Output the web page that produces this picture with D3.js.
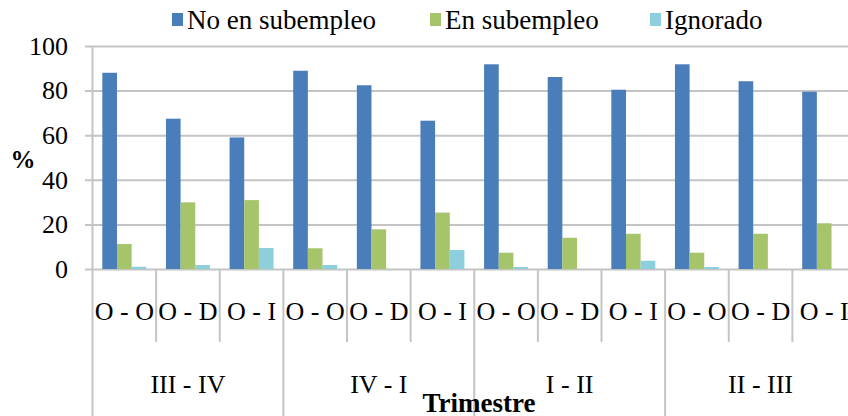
<!DOCTYPE html>
<meta charset="utf-8">
<style>
body { margin: 0; background: #fff; }
svg, svg text { font-family: "Liberation Serif", serif; }
.grid line { stroke: #c4c4c4; stroke-width: 2; }
.grid path { display: none; }
.sep { stroke: #c4c4c4; stroke-width: 2; }
</style>
<svg width="848" height="416" font-family="Liberation Serif"></svg>
<script src="https://d3js.org/d3.v7.min.js"></script>
<script>

var trimestres = ["III - IV", "IV - I", "I - II", "II - III"];
var flujos = ["O - O", "O - D", "O - I"];
var series = ["No en subempleo", "En subempleo", "Ignorado"];
var noSub = [88.0, 67.4, 59.0, 88.9, 82.4, 66.5, 91.8, 86.1, 80.4, 91.8, 84.2, 79.5];
var enSub = [11.2, 29.9, 30.9, 9.3, 17.8, 25.3, 7.3, 14.0, 15.8, 7.3, 15.8, 20.5];
var ignorado = [1.0, 1.8, 9.4, 1.8, 0, 8.5, 0.9, 0, 3.7, 0.9, 0, 0];
var yTicks = [0, 20, 40, 60, 80, 100];
var colors = ["#4a7ebb", "#a6c46a", "#8ecfdd"];
var serif = "Liberation Serif";

var svg = d3.select("svg"),
    plotL = 92.5, plotR = 856, plotT = 46, plotB = 269;

// one row per sub-category
var rows = [];
trimestres.forEach(function(t, i) {
  flujos.forEach(function(f, j) {
    var k = i * 3 + j;
    rows.push({key: k, trim: t, flujo: f, vals: [noSub[k], enSub[k], ignorado[k]]});
  });
});

var x0 = d3.scaleBand().domain(rows.map(function(d) { return d.key; })).range([plotL, plotR]);
var xg = d3.scaleBand().domain(trimestres).range([plotL, plotR]);
var x1 = d3.scaleBand().domain(series).range([0, x0.bandwidth()]).paddingInner(0).paddingOuter(0.67);
var y = d3.scaleLinear().domain([0, 100]).range([plotB, plotT]);

// gridlines + y labels
var yAxis = svg.append("g")
    .attr("class", "grid")
    .attr("transform", "translate(85,0)")
    .call(d3.axisLeft(y).tickValues(yTicks).tickSize(-(plotR - 85)).tickPadding(17))
    .attr("font-family", serif)
    .attr("font-size", 26);
yAxis.selectAll("text")
    .attr("fill", "#000")
    .attr("font-family", serif);

// y axis line
svg.append("line").attr("class", "sep")
    .attr("x1", plotL).attr("x2", plotL).attr("y1", plotT).attr("y2", 416);

// bars
var grp = svg.selectAll(".cat")
  .data(rows)
  .enter().append("g")
    .attr("transform", function(d) { return "translate(" + x0(d.key) + ",0)"; });

grp.selectAll("rect")
  .data(function(d) { return d.vals.map(function(v, i) { return {s: series[i], v: v, i: i}; }); })
  .enter().append("rect")
    .attr("x", function(d) { return x1(d.s); })
    .attr("width", x1.bandwidth())
    .attr("y", function(d) { return y(d.v); })
    .attr("height", function(d) { return plotB - y(d.v); })
    .attr("fill", function(d) { return colors[d.i]; });

// category separators
rows.forEach(function(d, k) {
  if (k === 0) return;
  var xx = x0(d.key);
  svg.append("line").attr("class", "sep")
      .attr("x1", xx).attr("x2", xx)
      .attr("y1", plotB).attr("y2", k % 3 === 0 ? 416 : 342);
});

// sub-category labels
svg.selectAll(".flab")
  .data(rows)
  .enter().append("text")
    .attr("x", function(d) { return x0(d.key) + x0.bandwidth() / 2; })
    .attr("y", 320)
    .attr("text-anchor", "middle")
    .attr("font-family", serif)
    .attr("font-size", 26)
    .text(function(d) { return d.flujo; });

// trimestre labels
svg.selectAll(".tlab")
  .data(trimestres)
  .enter().append("text")
    .attr("x", function(d) { return xg(d) + xg.bandwidth() / 2; })
    .attr("y", 393)
    .attr("text-anchor", "middle")
    .attr("font-family", serif)
    .attr("font-size", 26)
    .text(function(d) { return d; });

// axis titles
svg.append("text")
    .attr("x", 479).attr("y", 412)
    .attr("text-anchor", "middle")
    .attr("font-family", serif)
    .attr("font-size", 27).attr("font-weight", "bold")
    .text("Trimestre");

svg.append("text")
    .attr("x", 23).attr("y", 168)
    .attr("text-anchor", "middle")
    .attr("font-family", serif)
    .attr("font-size", 25).attr("font-weight", "bold")
    .text("%");

// legend
var legX = [172, 430, 650];
var leg = svg.selectAll(".leg")
  .data(series)
  .enter().append("g")
    .attr("transform", function(d, i) { return "translate(" + legX[i] + ",0)"; });

leg.append("rect")
    .attr("x", 0).attr("y", 13)
    .attr("width", 11).attr("height", 13)
    .attr("fill", function(d, i) { return colors[i]; });

leg.append("text")
    .attr("x", 15).attr("y", 29)
    .attr("font-family", serif)
    .attr("font-size", 27)
    .text(function(d) { return d; });

</script>
